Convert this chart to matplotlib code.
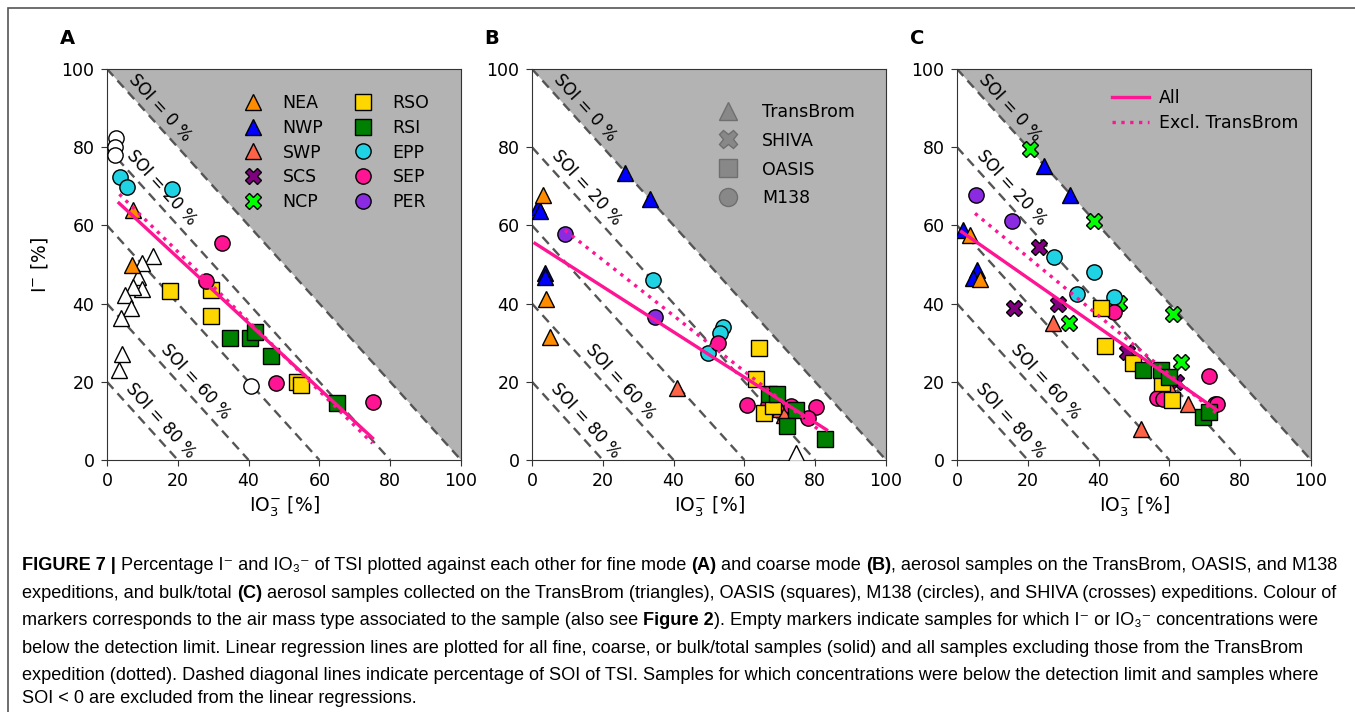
import numpy as np
import matplotlib
matplotlib.use("Agg")
import matplotlib.pyplot as plt
from matplotlib.lines import Line2D
from matplotlib.patches import Rectangle
from matplotlib import font_manager

W, H = 1355, 712

# air mass types -> marker / colour
TYPES = ["NEA", "NWP", "SWP", "SCS", "NCP", "RSO", "RSI", "EPP", "SEP", "PER"]
MARKERS = {"NEA": "^", "NWP": "^", "SWP": "^", "SCS": "X", "NCP": "X",
           "RSO": "s", "RSI": "s", "EPP": "o", "SEP": "o", "PER": "o"}
COLOURS = {"NEA": "#ff8c00", "NWP": "#0000ff", "SWP": "#ff6347", "SCS": "#800080",
           "NCP": "#00ff00", "RSO": "#ffd700", "RSI": "#008000", "EPP": "#20d3e4",
           "SEP": "#ff1493", "PER": "#8a2be2"}

# panel A (fine mode): (IO3- %, I- %)
A_NEA = ([7.4, 7.0], [63.9, 49.9])
A_EPP = ([3.7, 5.6, 18.3], [72.5, 69.9, 69.2])
A_SEP = ([32.4, 28.0, 47.7, 75.0], [55.6, 45.8, 19.6, 14.9])
A_RSO = ([17.8, 29.4, 29.4, 53.6, 54.8], [43.2, 43.5, 36.9, 20.0, 19.2])
A_RSI = ([34.7, 40.4, 41.8, 46.2, 65.0], [31.1, 31.1, 32.8, 26.6, 14.5])
A_EMPTY_TRI = ([13.1, 10.0, 8.8, 10.0, 7.4, 5.1, 6.8, 4.0, 4.3, 3.4],
               [52.2, 50.3, 46.9, 43.7, 44.3, 42.2, 39.0, 36.2, 27.1, 23.0])
A_EMPTY_CIR = ([2.5, 2.2, 2.2, 40.7], [82.3, 80.0, 78.0, 18.8])

# panel B (coarse mode)
B_NWP = ([26.3, 33.3, 1.6, 2.3, 3.7, 3.7], [73.3, 66.7, 64.8, 63.8, 47.9, 46.9])
B_NEA = ([3.2, 3.9, 5.1], [67.8, 41.3, 31.5])
B_SWP = ([41.1, 70.1, 71.2], [18.3, 13.0, 11.4])
B_PER = ([9.3, 34.7], [57.8, 36.5])
B_EPP = ([34.3, 53.9, 53.1, 49.8], [46.0, 33.9, 32.4, 27.3])
B_SEP = ([52.6, 60.8, 66.8, 73.1, 80.2, 78.1], [30.0, 14.1, 14.1, 13.8, 13.6, 10.7])
B_RSO = ([64.2, 63.3, 65.5, 68.0], [28.6, 20.6, 12.1, 13.8])
B_RSI = ([67.0, 69.3, 74.6, 71.9, 82.8], [16.9, 16.9, 12.8, 8.7, 5.3])
B_EMPTY_TRI = ([74.6], [1.7])

# panel C (bulk/total)
C_NCP = ([20.6, 38.7, 61.1, 31.5, 63.2, 45.8], [79.5, 61.2, 37.3, 35.0, 25.1, 40.1])
C_NWP = ([24.7, 31.9, 1.8, 5.6, 4.5], [75.2, 67.8, 58.8, 48.6, 46.5])
C_NEA = ([3.7, 6.5], [57.5, 46.3])
C_PER = ([5.4, 15.4], [67.8, 61.1])
C_SCS = ([23.3, 16.1, 28.5, 47.9, 62.0], [54.4, 39.0, 39.9, 27.7, 20.0])
C_EPP = ([27.3, 38.7, 33.8, 44.4], [52.0, 48.2, 42.5, 41.8])
C_SWP = ([27.0, 51.9, 65.3, 60.4], [35.0, 8.0, 14.4, 17.7])
C_SEP = ([44.4, 71.3, 56.6, 58.1, 72.9, 73.5], [37.9, 21.5, 15.8, 15.6, 14.3, 14.3])
C_RSO = ([40.8, 41.8, 49.6, 57.8, 60.6], [38.8, 29.2, 24.7, 19.6, 15.3])
C_RSI = ([52.5, 57.5, 60.0, 69.4, 71.3], [23.0, 23.0, 21.3, 10.9, 12.4])

# regression lines: (slope, intercept, x start, x end)
A_FIT_ALL = (-0.839, 68.55, 3.4, 75.0)
A_FIT_EXCL = (-0.891, 71.1, 3.5, 75.0)
B_FIT_ALL = (-0.579, 55.9, 0.85, 83.2)
B_FIT_EXCL = (-0.712, 65.4, 9.3, 81.8)
C_FIT_ALL = (-0.632, 59.2, 1.3, 73.4)
C_FIT_EXCL = (-0.75, 66.9, 5.1, 73.4)

SOI_LINES = [0, 20, 40, 60, 80]
SOI_LABELS = [0, 20, 60, 80]
SOI_LABEL_X = [15.0, 15.5, 25.0, 15.0]

TICKS = [0, 20, 40, 60, 80, 100]
PINK = "#ff1493"
MS = 11

panels = {
    "A": [("NEA", A_NEA), ("EPP", A_EPP), ("RSO", A_RSO), ("RSI", A_RSI), ("SEP", A_SEP)],
    "B": [("NWP", B_NWP), ("NEA", B_NEA), ("SWP", B_SWP), ("PER", B_PER), ("EPP", B_EPP),
          ("SEP", B_SEP), ("RSO", B_RSO), ("RSI", B_RSI)],
    "C": [("NCP", C_NCP), ("NWP", C_NWP), ("NEA", C_NEA), ("PER", C_PER), ("SCS", C_SCS),
          ("EPP", C_EPP), ("SWP", C_SWP), ("SEP", C_SEP), ("RSO", C_RSO), ("RSI", C_RSI)],
}
empties = {"A": [("^", A_EMPTY_TRI), ("o", A_EMPTY_CIR)], "B": [("^", B_EMPTY_TRI)], "C": []}
fits = {"A": (A_FIT_ALL, A_FIT_EXCL), "B": (B_FIT_ALL, B_FIT_EXCL), "C": (C_FIT_ALL, C_FIT_EXCL)}

plt.rcParams["font.family"] = "DejaVu Sans"
fig = plt.figure(figsize=(W / 100, H / 100), dpi=100)

lefts = {"A": 107, "B": 532, "C": 957}
axes = {}
for name, left in lefts.items():
    ax = fig.add_axes([left / W, (H - 460) / H, 354 / W, 391 / H])
    axes[name] = ax
    ax.set_xlim(0, 100)
    ax.set_ylim(0, 100)
    xs = np.array([0, 100])
    ax.fill_between(xs, 100 - xs, 100, color="#b3b3b3", lw=0, zorder=0)
    for soi in SOI_LINES:
        s = 100 - soi
        xl = np.array([0, s])
        ax.plot(xl, s - xl, ls=(0, (4, 2.6)), color="#555555", lw=1.7, zorder=1)
    for soi, xc in zip(SOI_LABELS, SOI_LABEL_X):
        s = 100 - soi
        ax.text(xc, s - xc + 5, "SOI = %d %%" % soi, rotation=-45, transform_rotates_text=True,
                rotation_mode="anchor", ha="center", va="center", fontsize=12, zorder=2)
    for mk, (ex, ey) in empties[name]:
        ax.plot(ex, ey, ls="none", marker=mk, ms=MS, mfc="white", mec="black", mew=1.0, zorder=3)
    for t, (px, py) in panels[name]:
        ax.plot(px, py, ls="none", marker=MARKERS[t], ms=MS, mfc=COLOURS[t], mec="black",
                mew=1.0, zorder=3)
    f_all, f_excl = fits[name]
    for (k, b, x0, x1), ls in ((f_all, "-"), (f_excl, ":")):
        xf = np.array([x0, x1])
        ax.plot(xf, k * xf + b, ls=ls, color=PINK, lw=2.4, zorder=4)
    ax.set_xticks(TICKS)
    ax.set_yticks(TICKS)
    ax.tick_params(labelsize=12.5, length=4, pad=5, color="#333333")
    for sp in ax.spines.values():
        sp.set_color("#333333")
    ax.set_xlabel(r"IO$_3^{-}$ [%]", fontsize=13.5, labelpad=3)
    fig.text((left - 40) / W, 1 - 38 / H, name, fontsize=14, fontweight="bold",
             ha="center", va="center")

axes["A"].set_ylabel(r"I$^{-}$ [%]", fontsize=13.5, labelpad=8)

# legend A: air mass types
hA = [Line2D([], [], ls="none", marker=MARKERS[t], ms=MS, mfc=COLOURS[t], mec="black", mew=1.0)
      for t in TYPES]
axes["A"].legend(hA, TYPES, ncol=2, loc="upper left", bbox_to_anchor=(0.388, 0.936),
                 frameon=False, borderpad=0, borderaxespad=0, handlelength=1.0,
                 handletextpad=1.2, columnspacing=1.8, labelspacing=0.39, fontsize=12.5)

# legend B: expeditions
EXPEDITIONS = ["TransBrom", "SHIVA", "OASIS", "M138"]
EXP_MARKERS = ["^", "X", "s", "o"]
hB = [Line2D([], [], ls="none", marker=m, ms=13, mfc="#888888", mec="#6f6f6f", mew=1.0)
      for m in EXP_MARKERS]
axes["B"].legend(hB, EXPEDITIONS, loc="upper left", bbox_to_anchor=(0.528, 0.914),
                 frameon=False, borderpad=0, borderaxespad=0, handlelength=1.0,
                 handletextpad=1.5, labelspacing=0.63, fontsize=12.5)

# legend C: regressions
hC = [Line2D([], [], ls="-", color=PINK, lw=2.4), Line2D([], [], ls=":", color=PINK, lw=2.4)]
axes["C"].legend(hC, ["All", "Excl. TransBrom"], loc="upper left", bbox_to_anchor=(0.438, 0.949),
                 frameon=False, borderpad=0, borderaxespad=0, handlelength=2.1,
                 handletextpad=0.6, labelspacing=0.42, fontsize=12.5)

# frame around figure + caption
fig.add_artist(Rectangle((8 / W, -0.1), 2, 1.1 - 8 / H, transform=fig.transFigure,
                         fill=False, edgecolor="#555555", lw=1.2))

names = {f.name for f in font_manager.fontManager.ttflist}
cap_font = [n for n in ["Liberation Sans Narrow", "DejaVu Sans Condensed", "Liberation Sans"]
            if n in names] + ["DejaVu Sans"]

CAPTION = [
    [("FIGURE 7 |", True), (" Percentage I\u207b and IO\u2083\u207b of TSI plotted against each other for fine mode ", False),
     ("(A)", True), (" and coarse mode ", False), ("(B)", True),
     (", aerosol samples on the TransBrom, OASIS, and M138", False)],
    [("expeditions, and bulk/total ", False), ("(C)", True),
     (" aerosol samples collected on the TransBrom (triangles), OASIS (squares), M138 (circles), and SHIVA (crosses) expeditions. Colour of", False)],
    [("markers corresponds to the air mass type associated to the sample (also see ", False), ("Figure 2", True),
     ("). Empty markers indicate samples for which I\u207b or IO\u2083\u207b concentrations were", False)],
    [("below the detection limit. Linear regression lines are plotted for all fine, coarse, or bulk/total samples (solid) and all samples excluding those from the TransBrom", False)],
    [("expedition (dotted). Dashed diagonal lines indicate percentage of SOI of TSI. Samples for which concentrations were below the detection limit and samples where", False)],
    [("SOI < 0 are excluded from the linear regressions.", False)],
]
CAP_Y = [570, 598, 625, 653, 680, 703]

renderer = fig.canvas.get_renderer()


def draw_line(pieces, y, size, draw=True):
    x = 22.0
    arts = []
    for txt, bold in pieces:
        t = fig.text(x / W, 1 - y / H, txt, fontsize=size, family=cap_font,
                     fontweight="bold" if bold else "normal", va="baseline", ha="left")
        bb = t.get_window_extent(renderer)
        x = bb.x1
        arts.append(t)
    if not draw:
        for t in arts:
            t.remove()
    return x


size = 12.0
width = draw_line(CAPTION[0], CAP_Y[0], size, draw=False) - 22
size = size * 1323 / width
for pieces, y in zip(CAPTION, CAP_Y):
    draw_line(pieces, y, size)

fig.savefig("out.png", dpi=100)
